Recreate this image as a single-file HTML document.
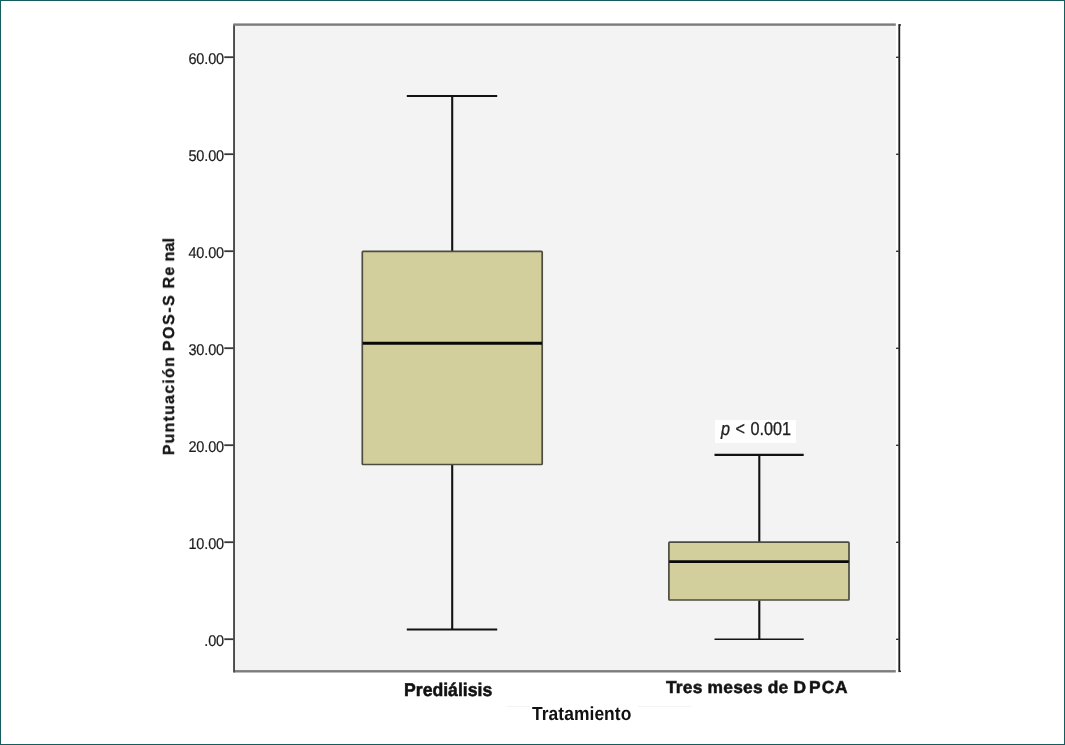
<!DOCTYPE html>
<html>
<head>
<meta charset="utf-8">
<style>
html,body{margin:0;padding:0;background:#fff;}
body{text-rendering:geometricPrecision;width:1065px;height:745px;position:relative;overflow:hidden;font-family:"Liberation Sans",sans-serif;}
#frame{position:absolute;left:0;top:0;width:1065px;height:745px;box-sizing:border-box;border:1px solid #145c60;}
svg{position:absolute;left:0;top:0;}
.yt{position:absolute;left:150.8px;width:73px;text-align:right;font-size:14.5px;line-height:16px;color:#1c1c1c;-webkit-text-stroke:0.2px #1c1c1c;letter-spacing:-0.15px;will-change:transform;transform:scaleY(1.075);transform-origin:100% 50%;}
.xl{position:absolute;font-weight:bold;color:#111;white-space:nowrap;line-height:20px;will-change:transform;-webkit-text-stroke:0.5px #111;}
#ytitle{position:absolute;left:169.6px;top:345.7px;width:0;height:0;}
#ytitle span{will-change:transform;position:absolute;left:0;top:0;white-space:nowrap;font-weight:bold;font-size:16px;line-height:16px;color:#151515;-webkit-text-stroke:0.3px #151515;letter-spacing:1.2px;transform:translate(-50%,-50%) rotate(-90deg);transform-origin:50% 50%;display:block;}
#p{position:absolute;left:715px;top:420.4px;width:81px;height:22.6px;background:#fff;}
#p span{will-change:transform;position:absolute;left:5.7px;top:-1.7px;color:#222;font-size:16.2px;word-spacing:1px;-webkit-text-stroke:0.25px #222;line-height:23px;white-space:nowrap;transform:scaleY(1.16);transform-origin:0 75%;display:block;}
#ytitle b{font-weight:bold;}
</style>
</head>
<body>
<svg width="1065" height="745" viewBox="0 0 1065 745">
  <rect x="234" y="24" width="662" height="647" fill="#f3f3f3"/>
  <rect x="234" y="670.1" width="661.8" height="2.4" fill="#7c7c7c"/>
  <rect x="233.1" y="24.4" width="1.9" height="648.1" fill="#4a4a4a"/>
  <rect x="233.3" y="23.4" width="662.5" height="2.4" fill="#7c7c7c"/>
  <rect x="898.35" y="24.1" width="1.85" height="648" fill="#1e1e1e"/>
  <rect x="899" y="24.3" width="2" height="1.4" fill="#2a2a2a"/>
  <rect x="899" y="670.6" width="2" height="1.4" fill="#2a2a2a"/>
  <g fill="#383838">
    <rect x="224.3" y="56.30" width="9.2" height="1.8"/>
    <rect x="224.3" y="153.30" width="9.2" height="1.8"/>
    <rect x="224.3" y="250.30" width="9.2" height="1.8"/>
    <rect x="224.3" y="347.30" width="9.2" height="1.8"/>
    <rect x="224.3" y="444.30" width="9.2" height="1.8"/>
    <rect x="224.3" y="541.30" width="9.2" height="1.8"/>
    <rect x="224.3" y="638.30" width="9.2" height="1.8"/>
  </g>
  <g fill="#2a2a2a">
    <rect x="896.1" y="56.60" width="2.6" height="1.4"/>
    <rect x="896.1" y="153.60" width="2.6" height="1.4"/>
    <rect x="896.1" y="250.60" width="2.6" height="1.4"/>
    <rect x="896.1" y="347.60" width="2.6" height="1.4"/>
    <rect x="896.1" y="444.60" width="2.6" height="1.4"/>
    <rect x="896.1" y="541.60" width="2.6" height="1.4"/>
    <rect x="896.1" y="638.60" width="2.6" height="1.4"/>
  </g>
  <g stroke="#121212" stroke-width="2.1" fill="none">
    <line x1="452.2" y1="96.00" x2="452.2" y2="251.20"/>
    <line x1="452.2" y1="464.60" x2="452.2" y2="629.50"/>
    <line x1="406.8" y1="96.00" x2="497.2" y2="96.00"/>
    <line x1="406.8" y1="629.50" x2="497.2" y2="629.50"/>
  </g>
  <rect x="362.3" y="251.4" width="179.9" height="213.1" rx="0.8" fill="#d3cf9c" stroke="#4c4c40" stroke-width="1.7"/>
  <line x1="362.6" y1="343.25" x2="542" y2="343.25" stroke="#080808" stroke-width="3.2"/>
  <g stroke="#121212" stroke-width="2.1" fill="none">
    <line x1="759.3" y1="454.90" x2="759.3" y2="542.20"/>
    <line x1="759.3" y1="600.40" x2="759.3" y2="639.20"/>
    <line x1="714.5" y1="454.90" x2="803.7" y2="454.90"/>
    <line x1="714.5" y1="639.30" x2="803.7" y2="639.30" stroke-width="1.6"/>
  </g>
  <rect x="668.9" y="542.1" width="180.1" height="57.9" rx="0.8" fill="#d3cf9c" stroke="#4c4c40" stroke-width="1.7"/>
  <line x1="669.2" y1="561.65" x2="848.8" y2="561.65" stroke="#080808" stroke-width="2.6"/>
</svg>

<div class="yt" style="top:52.00px">60.00</div>
<div class="yt" style="top:149.00px">50.00</div>
<div class="yt" style="top:246.00px">40.00</div>
<div class="yt" style="top:343.00px">30.00</div>
<div class="yt" style="top:440.00px">20.00</div>
<div class="yt" style="top:537.00px">10.00</div>
<div class="yt" style="top:634.00px">.00</div>

<div id="ytitle"><span>Puntuación<b style="letter-spacing:0.4px"> </b><b style="letter-spacing:1.55px">POS-S</b><b style="letter-spacing:0.85px"> </b>R<b style="letter-spacing:5.2px">e</b><b style="letter-spacing:0.2px">na</b>l</span></div>

<div id="p"><span><i>p</i> &lt; 0.001</span></div>

<div class="xl" style="left:404.1px;top:679.9px;font-size:17.65px;transform:scaleY(1.04);transform-origin:0 80%;">Prediálisis</div>
<div class="xl" style="left:666.4px;top:676.7px;font-size:17.4px;letter-spacing:0.2px;transform:scaleY(0.99);transform-origin:0 80%;">Tres meses de <span style="letter-spacing:3px">D</span><span style="letter-spacing:1.1px">P</span><span style="letter-spacing:0.6px">C</span>A</div>
<div class="xl" style="left:531.9px;top:704.1px;font-size:17.45px;-webkit-text-stroke:0;letter-spacing:0.05px;transform:scaleY(1.085);transform-origin:0 80%;">Tratamiento</div>

<div style="position:absolute;left:507px;top:706px;width:23px;height:1px;background:#f3f3f3"></div>
<div style="position:absolute;left:638px;top:706px;width:53px;height:1px;background:#f3f3f3"></div>
<div id="frame"></div>
</body>
</html>
